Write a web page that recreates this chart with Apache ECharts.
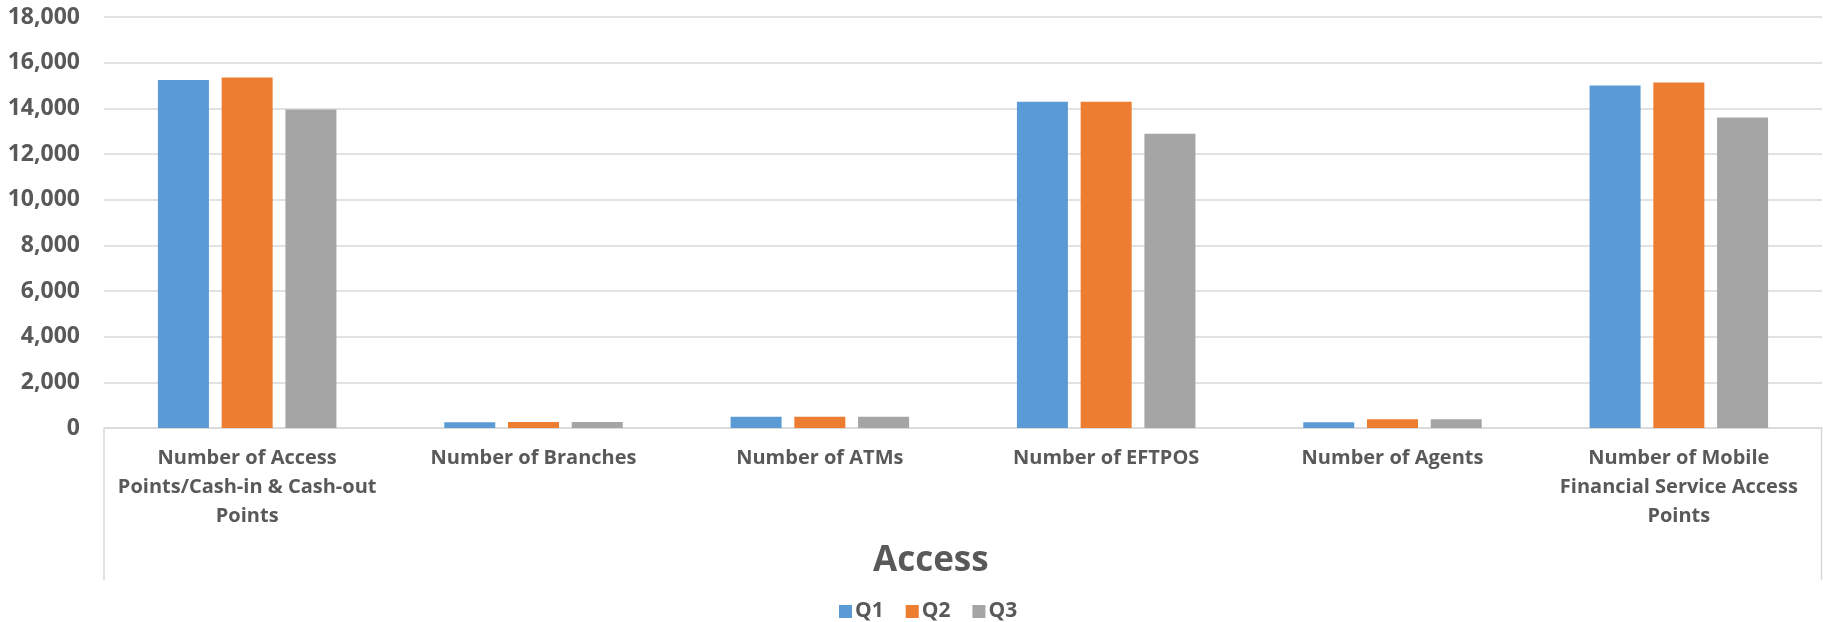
<!DOCTYPE html>
<html>
<head>
<meta charset="utf-8">
<script src="https://cdn.jsdelivr.net/npm/echarts@6/dist/echarts.min.js"></script>
<style>
html,body{margin:0;padding:0;background:#fff;}
#chart{width:1823px;height:622px;}
</style>
</head>
<body>
<div id="chart"></div>
<script>
const categories = [
  "Number of Access Points/Cash-in & Cash-out Points",
  "Number of Branches",
  "Number of ATMs",
  "Number of EFTPOS",
  "Number of Agents",
  "Number of Mobile Financial Service Access Points"
];
const seriesNames = ["Q1", "Q2", "Q3"];
const q1 = [15240, 255, 490, 14290, 255, 15000];
const q2 = [15350, 260, 490, 14290, 380, 15130];
const q3 = [13950, 260, 490, 12890, 380, 13600];
const yTicks = { min: 0, max: 18000, interval: 2000 };
const axisTitle = "Access";

const colors = ["#5B9BD5", "#ED7D31", "#A5A5A5"];
const textColor = "#595959";
const lineColor = "#D9D9D9";
const FONT = "'Open Sans', 'Noto Sans', sans-serif";
const LABEL_SIZE = 20;
const LABEL_WEIGHT = 'bold';

const W = 1823, H = 622;
const gridLeft = 104, gridRight = 1, gridTop = 17, gridBottom = 194;
const boxBottom = 580;
const wrapWidth = 270;

// word wrap on spaces only (like the original), measured with the label font
const measureCtx = document.createElement('canvas').getContext('2d');
measureCtx.font = LABEL_WEIGHT + ' ' + LABEL_SIZE + 'px ' + FONT;
function wrap(text) {
  const words = text.split(' ');
  const lines = [];
  let cur = '';
  words.forEach(w => {
    const t = cur ? cur + ' ' + w : w;
    if (cur && measureCtx.measureText(t).width > wrapWidth) { lines.push(cur); cur = w; }
    else cur = t;
  });
  if (cur) lines.push(cur);
  return lines.join('\n');
}

const chart = echarts.init(document.getElementById('chart'), null, {renderer: 'canvas'});
const data = [q1, q2, q3];

chart.setOption({
  backgroundColor: '#ffffff',
  animation: false,
  color: colors,
  title: {
    text: axisTitle,
    left: 868,
    top: 539,
    textStyle: { fontFamily: FONT, fontSize: 35, fontWeight: 'bold', color: textColor }
  },
  legend: {
    data: seriesNames,
    left: 834,
    top: 596,
    itemWidth: 13,
    itemHeight: 13,
    itemGap: 22,
    icon: 'rect',
    textStyle: { fontFamily: FONT, fontSize: 21, fontWeight: 'bold', color: textColor, padding: [0,0,0,-2] }
  },
  grid: { left: gridLeft, right: gridRight, top: gridTop, bottom: gridBottom, containLabel: false },
  xAxis: {
    type: 'category',
    data: categories,
    axisLine: { show: true, lineStyle: { color: lineColor, width: 1.5 } },
    axisTick: { show: false },
    axisLabel: {
      interval: 0,
      margin: 16,
      color: textColor,
      fontFamily: FONT,
      fontSize: LABEL_SIZE,
      fontWeight: LABEL_WEIGHT,
      lineHeight: 29,
      align: 'center',
      formatter: v => wrap(v)
    }
  },
  yAxis: {
    type: 'value',
    min: yTicks.min,
    max: yTicks.max,
    interval: yTicks.interval,
    axisLine: { show: false },
    axisTick: { show: false },
    splitLine: { lineStyle: { color: lineColor, width: 1.5 } },
    axisLabel: {
      margin: 24,
      color: textColor,
      fontFamily: FONT,
      fontSize: 23,
      fontWeight: LABEL_WEIGHT,
      formatter: v => v.toLocaleString('en-US')
    }
  },
  series: seriesNames.map((n, i) => ({
    name: n,
    type: 'bar',
    data: data[i],
    barWidth: 51,
    barGap: '25%',
    itemStyle: { color: colors[i] }
  })),
  graphic: [
    { type: 'line', shape: { x1: gridLeft, y1: H - gridBottom, x2: gridLeft, y2: boxBottom }, style: { stroke: lineColor, lineWidth: 1.5 } },
    { type: 'line', shape: { x1: W - gridRight - 0.5, y1: H - gridBottom, x2: W - gridRight - 0.5, y2: boxBottom }, style: { stroke: lineColor, lineWidth: 1.5 } }
  ]
});
</script>
</body>
</html>
